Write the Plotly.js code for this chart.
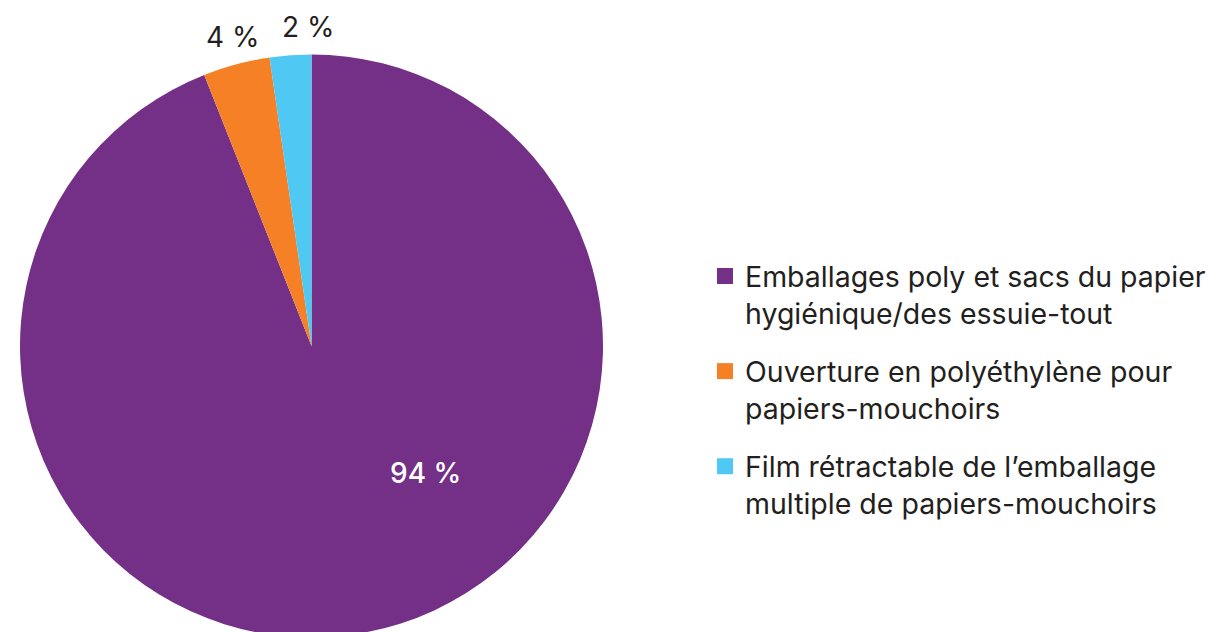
<!DOCTYPE html>
<html>
<head>
<meta charset="utf-8">
<script src="https://cdn.plot.ly/plotly-3.0.1.min.js"></script>
<style>
html,body{margin:0;padding:0;overflow:hidden;background:#fff;}
#chart{width:1218px;height:650px;}
</style>
</head>
<body>
<div id="chart"></div>
<script>
const categories = [
  "Emballages poly et sacs du papier<br>hygiénique/des essuie-tout",
  "Ouverture en polyéthylène pour<br>papiers-mouchoirs",
  "Film rétractable de l’emballage<br>multiple de papiers-mouchoirs"
];
const values = [94, 3.7, 2.3];
const valueLabels = ["94 %", "4 %", "2 %"];
const colors = ["#742F87", "#F58025", "#4FC8F4"];

const FONT = "Inter, sans-serif";
const TEXT = "#231F20";
const H = 650;

const traces = [{
  type: "pie",
  values: values,
  labels: categories,
  textinfo: "none",
  marker: {colors: colors, line: {width: 0}},
  sort: false,
  direction: "clockwise",
  rotation: 0,
  showlegend: false,
  hoverinfo: "none",
  domain: {x: [(311.5 - 291.5) / 1218, (311.5 + 291.5) / 1218],
           y: [(H - 346 - 291.5) / H, (H - 346 + 291.5) / H]}
}];

categories.forEach((c, i) => {
  traces.push({
    type: "scatter",
    mode: "markers",
    x: [null], y: [null],
    name: c,
    legendgroup: "g" + i,
    marker: {symbol: "square", size: 18, color: colors[i]},
    hoverinfo: "none"
  });
});

// label placement (paper pixels) for each slice's value text
const labelPos = [[425, 473], [232, 37], [308, 27]];
const labelColor = ["#ffffff", TEXT, TEXT];
const labelWeight = [500, 400, 400];

const annotations = valueLabels.map((t, i) => ({
  text: t,
  xref: "paper", yref: "paper",
  x: labelPos[i][0] / 1218, y: 1 - labelPos[i][1] / H,
  xanchor: "center", yanchor: "middle",
  showarrow: false,
  font: {family: FONT, size: 28, color: labelColor[i], weight: labelWeight[i]}
}));

const layout = {
  width: 1218,
  height: H,
  margin: {l: 0, r: 0, t: 0, b: 0},
  paper_bgcolor: "#ffffff",
  plot_bgcolor: "#ffffff",
  xaxis: {visible: false},
  yaxis: {visible: false},
  showlegend: true,
  annotations: annotations,
  legend: {
    x: 705 / 1218, xanchor: "left",
    y: (H - 251) / H, yanchor: "top",
    font: {family: FONT, size: 28.5, color: TEXT},
    valign: "top",
    tracegroupgap: 18,
    bgcolor: "rgba(0,0,0,0)"
  }
};

Plotly.newPlot("chart", traces, layout, {displayModeBar: false, staticPlot: true});
</script>
</body>
</html>
